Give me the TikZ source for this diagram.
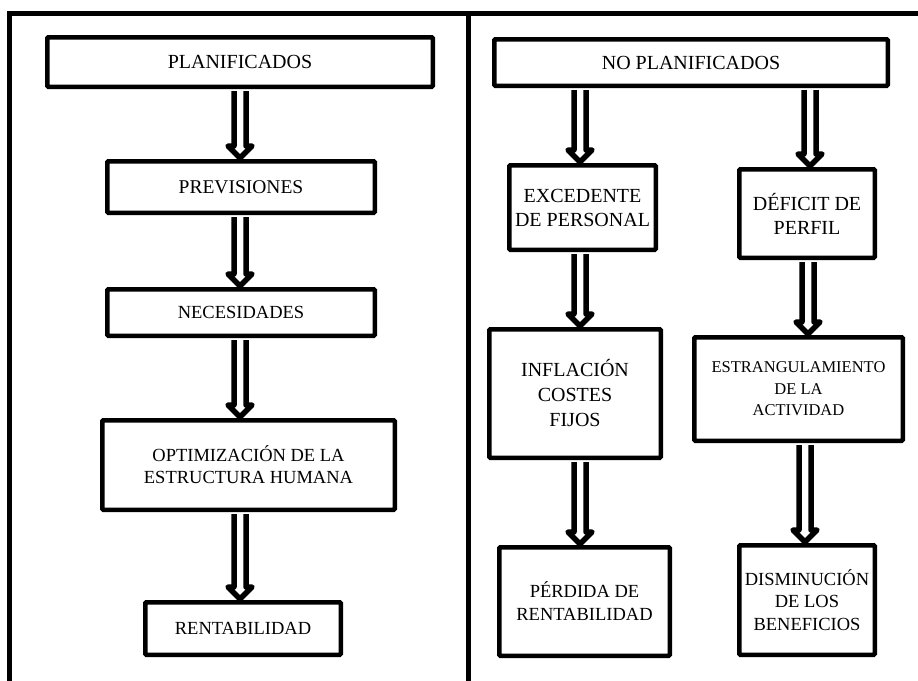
\documentclass[tikz,border=0pt]{standalone}
\usepackage{fontspec}
\setmainfont{Liberation Serif}
\usetikzlibrary{calc}

% Hollow double-shaft arrow from the bottom of one box to the top of the next,
% drawn at a given x position (in pt).
\newcommand\fatarrow[3]{%
  \path let \p1=(#2.south), \p2=(#3.north) in
    [arrowbody]
    ({#1pt-6pt},{\y1-2.2pt}) -- ({#1pt-6pt},{\y2+13pt}) --
    ({#1pt-12pt},{\y2+13pt}) -- ({#1pt},{\y2+1pt}) --
    ({#1pt+12pt},{\y2+13pt}) -- ({#1pt+6pt},{\y2+13pt}) --
    ({#1pt+6pt},{\y1-2.2pt});%
}

\tikzset{
  box/.style={draw, line width=4.5pt, fill=white, rounded corners=1pt,
    inner sep=0pt, align=center},
  arrowbody/.style={draw, fill=white, line width=5.5pt, line join=round},
  frameline/.style={line width=5pt},
  fs/.style 2 args={font=\fontsize{#1}{#2}\selectfont}
}

\begin{document}
\begin{tikzpicture}[x=1pt, y=-1pt]
\useasboundingbox (0,0) rectangle (918,680);

% outer frame and divider
\draw[frameline] (9.5,685) -- (9.5,13) -- (930,13);
\draw[frameline] (468,13) -- (468,685);

% planned column
\node[box, fs={20}{24}, minimum width=385.5pt, minimum height=49.5pt] (plan) at (240,62) {PLANIFICADOS};
\node[box, fs={19.5}{24}, minimum width=267.5pt, minimum height=51.5pt] (prev) at (241,187) {PREVISIONES};
\node[box, fs={18.5}{22}, minimum width=267.5pt, minimum height=46.5pt] (nec) at (241,312.5) {NECESIDADES};
\node[box, fs={18.5}{22}, minimum width=292.5pt, minimum height=89.5pt] (opt) at (248.5,465) {OPTIMIZACIÓN DE LA\\ESTRUCTURA HUMANA};
\node[box, fs={18.5}{22}, minimum width=195.5pt, minimum height=52.5pt] (rent) at (243,628.5) {RENTABILIDAD};

% unplanned column
\node[box, fs={20}{24}, minimum width=393.5pt, minimum height=46.5pt] (noplan) at (691,62.5) {NO PLANIFICADOS};
\node[box, fs={20}{24}, minimum width=146.5pt, minimum height=84.5pt] (exc) at (582.5,207.5) {EXCEDENTE\\DE PERSONAL};
\node[box, fs={20}{24}, minimum width=135.5pt, minimum height=88.5pt] (def) at (807,213.5) {DÉFICIT DE\\PERFIL};
\node[box, fs={20}{25}, minimum width=171.5pt, minimum height=128.5pt] (inf) at (575,393.5) {INFLACIÓN\\COSTES\\FIJOS};
\node[box, fs={16.5}{21.5}, minimum width=208.5pt, minimum height=103.5pt] (est) at (798.5,389) {ESTRANGULAMIENTO\\DE LA\\ACTIVIDAD};
\node[box, fs={18.5}{23}, minimum width=170.5pt, minimum height=108.5pt] (per) at (584.5,601.5) {PÉRDIDA DE\\RENTABILIDAD};
\node[box, fs={18.5}{22.5}, minimum width=135.5pt, minimum height=109.5pt] (dis) at (807,600) {DISMINUCIÓN\\DE LOS\\BENEFICIOS};

% connectors
\fatarrow{240}{plan}{prev}
\fatarrow{240}{prev}{nec}
\fatarrow{240}{nec}{opt}
\fatarrow{240}{opt}{rent}
\fatarrow{580}{noplan}{exc}
\fatarrow{810}{noplan}{def}
\fatarrow{580}{exc}{inf}
\fatarrow{808}{def}{est}
\fatarrow{580}{inf}{per}
\fatarrow{805}{est}{dis}
\end{tikzpicture}
\end{document}
